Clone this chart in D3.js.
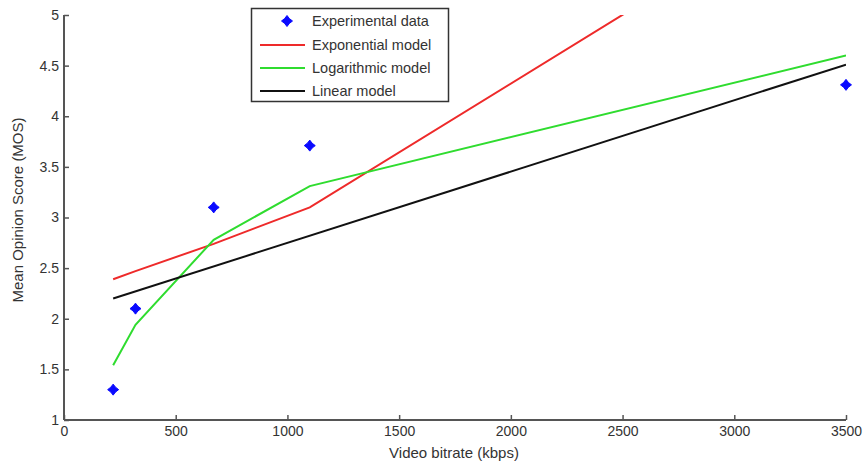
<!DOCTYPE html>
<html><head><meta charset="utf-8">
<script src="https://cdn.jsdelivr.net/npm/d3@7"></script>
<style>body{margin:0;background:#fff}svg{display:block}text{font-family:"Liberation Sans",Arial,sans-serif}</style>
</head><body><svg id="c" width="864" height="468"></svg>
<script>
const bitrates = [220, 320, 670, 1100, 3500];
const experimental = [1.3, 2.1, 3.1, 3.71, 4.31];
const exponentialModel = [2.39, 2.47, 2.74, 3.1, 6.36];
const logarithmicModel = [1.54, 1.94, 2.78, 3.31, 4.6];
const linearModel = [2.2, null, null, null, 4.51];
const xTicks = [0, 500, 1000, 1500, 2000, 2500, 3000, 3500];
const yTicks = [1, 1.5, 2, 2.5, 3, 3.5, 4, 4.5, 5];
const legendLabels = ["Experimental data", "Exponential model", "Logarithmic model", "Linear model"];
const colors = {exp: "#ee2a2a", log: "#2fdc2f", lin: "#111111", pts: "#0a0aff"};

const svg = d3.select("#c");
const x = d3.scaleLinear().domain([0, 3500]).range([64, 846]);
const y = d3.scaleLinear().domain([1, 5]).range([420, 15]);

svg.append("defs").append("clipPath").attr("id", "clip")
  .append("rect").attr("x", 64).attr("y", 15).attr("width", 782).attr("height", 405);

const axisColor = "#555";
const xAxis = svg.append("g").attr("transform", "translate(0,420)")
  .call(d3.axisBottom(x).tickValues(xTicks).tickSize(-5).tickPadding(6).tickFormat(d3.format("d")));
const yAxis = svg.append("g").attr("transform", "translate(64,0)")
  .call(d3.axisLeft(y).tickValues(yTicks).tickSize(-5).tickPadding(5).tickFormat(d => String(d)));
[xAxis, yAxis].forEach(g => {
  g.select(".domain").attr("stroke", axisColor).attr("stroke-width", 2);
  g.selectAll(".tick line").attr("stroke", axisColor).attr("stroke-width", 1.5);
  g.selectAll("text").attr("fill", "#333").attr("font-size", 14);
});
xAxis.select(".domain").attr("d", "M64,0H846");
yAxis.select(".domain").attr("d", "M0,15V420");

svg.append("text").attr("x", 454).attr("y", 458).attr("text-anchor", "middle")
  .attr("font-size", 15).attr("fill", "#333").text("Video bitrate (kbps)");
svg.append("text").attr("transform", "translate(23,210) rotate(-90)").attr("text-anchor", "middle")
  .attr("font-size", 15).attr("fill", "#333").text("Mean Opinion Score (MOS)");

const plot = svg.append("g").attr("clip-path", "url(#clip)");
const line = d3.line().defined(d => d[1] != null).x(d => x(d[0])).y(d => y(d[1]));
function series(vals) { return bitrates.map((b, i) => [b, vals[i]]).filter(d => d[1] != null); }
plot.append("path").datum(series(exponentialModel)).attr("d", line)
  .attr("fill", "none").attr("stroke", colors.exp).attr("stroke-width", 2);
plot.append("path").datum(series(logarithmicModel)).attr("d", line)
  .attr("fill", "none").attr("stroke", colors.log).attr("stroke-width", 2);
plot.append("path").datum(series(linearModel)).attr("d", line)
  .attr("fill", "none").attr("stroke", colors.lin).attr("stroke-width", 2);

const star = "M0,-5.5 L2.4,-2.4 L5.5,0 L2.4,2.4 L0,5.5 L-2.4,2.4 L-5.5,0 L-2.4,-2.4 Z";
svg.append("g").selectAll("path").data(series(experimental)).join("path")
  .attr("transform", d => `translate(${x(d[0])},${y(d[1])})`)
  .attr("d", star).attr("fill", colors.pts).attr("stroke", colors.pts).attr("stroke-width", 1);

// legend
const lg = svg.append("g");
lg.append("rect").attr("x", 251.5).attr("y", 8.5).attr("width", 197).attr("height", 93)
  .attr("fill", "#fff").attr("stroke", "#333").attr("stroke-width", 1.5);
const rowY = [21, 45, 68, 91];
const legendColors = [colors.pts, colors.exp, colors.log, colors.lin];
legendLabels.forEach((lab, i) => {
  if (i === 0) {
    lg.append("path").attr("transform", `translate(287,${rowY[i]})`).attr("d", star)
      .attr("fill", colors.pts).attr("stroke", colors.pts);
  } else {
    lg.append("line").attr("x1", 260).attr("x2", 305).attr("y1", rowY[i]).attr("y2", rowY[i])
      .attr("stroke", legendColors[i]).attr("stroke-width", 2);
  }
  lg.append("text").attr("x", 312).attr("y", rowY[i] + 5).attr("font-size", 14.5)
    .attr("fill", "#333").text(lab);
});
</script></body></html>
